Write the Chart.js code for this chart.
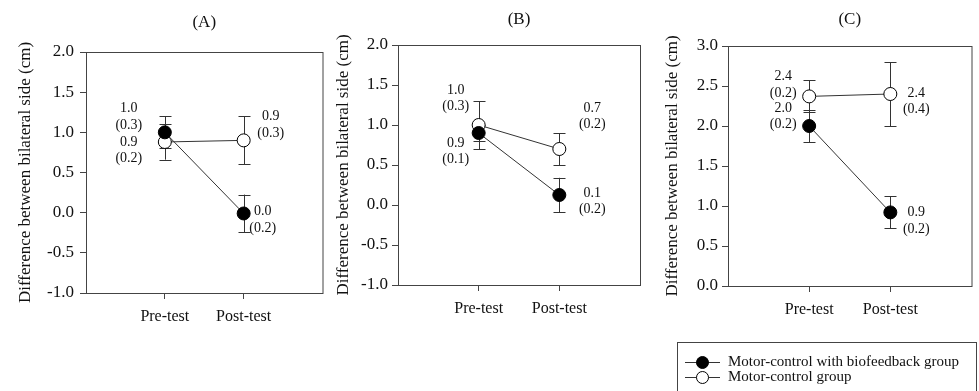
<!DOCTYPE html>
<html>
<head>
<meta charset="utf-8">
<script src="https://cdn.jsdelivr.net/npm/chart.js@4.4.0/dist/chart.umd.min.js"></script>
<style>
  body { margin: 0; background: #fff; width: 979px; height: 391px; overflow: hidden; position: relative; }
  canvas { position: absolute; top: 0; }
</style>
</head>
<body>
<canvas id="chartA" width="330" height="340" style="left:0"></canvas>
<canvas id="chartB" width="320" height="340" style="left:330px"></canvas>
<canvas id="chartC" width="329" height="391" style="left:650px"></canvas>
<script>
const categories = ['Pre-test', 'Post-test'];
const seriesNames = ['Motor-control with biofeedback group', 'Motor-control group'];
const yTitle = 'Difference between bilateral side (cm)';

// (A)
const bioA = [1.0, -0.01];
const bioErrA = [0.2, 0.235];
const ctrlA = [0.88, 0.9];
const ctrlErrA = [0.22, 0.3];
const bioMeanA = ['1.0', '0.0'];
const bioSdA = ['0.3', '0.2'];
const ctrlMeanA = ['0.9', '0.9'];
const ctrlSdA = ['0.2', '0.3'];

// (B)
const bioB = [0.9, 0.125];
const bioErrB = [0.1, 0.215];
const ctrlB = [1.0, 0.7];
const ctrlErrB = [0.3, 0.2];
const bioMeanB = ['0.9', '0.1'];
const bioSdB = ['0.1', '0.2'];
const ctrlMeanB = ['1.0', '0.7'];
const ctrlSdB = ['0.3', '0.2'];

// (C)
const bioC = [2.0, 0.92];
const bioErrC = [0.2, 0.2];
const ctrlC = [2.37, 2.4];
const ctrlErrC = [0.2, 0.4];
const bioMeanC = ['2.0', '0.9'];
const bioSdC = ['0.2', '0.2'];
const ctrlMeanC = ['2.4', '2.4'];
const ctrlSdC = ['0.2', '0.4'];

const serif = "'Liberation Serif', 'Times New Roman', serif";
const ink = '#333';

const boxPlugin = {
  id: 'box',
  afterDatasetsDraw(chart) {
    const a = chart.chartArea, ctx = chart.ctx;
    ctx.save();
    ctx.strokeStyle = '#444';
    ctx.lineWidth = 1;
    ctx.strokeRect(a.left + 0.5, a.top + 0.5, a.right - a.left, a.bottom - a.top);
    ctx.restore();
  }
};

const errorBars = {
  id: 'errorBars',
  beforeDatasetsDraw(chart) {
    const ctx = chart.ctx, y = chart.scales.y;
    ctx.save();
    ctx.strokeStyle = ink;
    ctx.lineWidth = 1;
    chart.data.datasets.forEach((ds, i) => {
      chart.getDatasetMeta(i).data.forEach((pt, j) => {
        const v = ds.data[j].y, e = ds.errors[j];
        const top = y.getPixelForValue(v + e), bot = y.getPixelForValue(v - e);
        const x = Math.round(pt.x) + 0.5;
        ctx.beginPath();
        ctx.moveTo(x, top); ctx.lineTo(x, bot);
        ctx.moveTo(x - 6, Math.round(top) + 0.5); ctx.lineTo(x + 6, Math.round(top) + 0.5);
        ctx.moveTo(x - 6, Math.round(bot) + 0.5); ctx.lineTo(x + 6, Math.round(bot) + 0.5);
        ctx.stroke();
      });
    });
    ctx.restore();
  }
};

const valueText = {
  id: 'valueText',
  afterDraw(chart, args, opts) {
    const ctx = chart.ctx;
    ctx.save();
    ctx.font = '14px ' + serif;
    ctx.fillStyle = '#111';
    ctx.textAlign = 'center';
    ctx.textBaseline = 'middle';
    chart.data.datasets.forEach((ds, i) => {
      chart.getDatasetMeta(i).data.forEach((pt, j) => {
        const [dx, dy] = opts.offsets[i][j];
        ctx.fillText(ds.means[j], pt.x + dx, pt.y + dy);
        ctx.fillText('(' + ds.sds[j] + ')', pt.x + dx, pt.y + dy + 16.5);
      });
    });
    // panel letter
    ctx.font = '17px ' + serif;
    ctx.fillText(opts.letter, (chart.chartArea.left + chart.chartArea.right) / 2, opts.letterY);
    ctx.restore();
  }
};

const legendBox = {
  id: 'legendBox',
  afterDraw(chart, args, opts) {
    if (!opts.show) return;
    const ctx = chart.ctx;
    ctx.save();
    ctx.strokeStyle = '#444';
    ctx.lineWidth = 1;
    ctx.strokeRect(27.5, 342.5, 299, 60);
    const fills = ['#000', '#fff'];
    seriesNames.forEach((name, i) => {
      const yy = 362 + i * 15;
      ctx.strokeStyle = ink;
      ctx.beginPath();
      ctx.moveTo(35, yy + 0.5); ctx.lineTo(70, yy + 0.5);
      ctx.stroke();
      ctx.beginPath();
      ctx.arc(52.5, yy + 0.5, 6, 0, Math.PI * 2);
      ctx.fillStyle = fills[i];
      ctx.fill();
      ctx.strokeStyle = '#000';
      ctx.stroke();
      ctx.fillStyle = '#111';
      ctx.font = '15px ' + serif;
      ctx.textBaseline = 'middle';
      ctx.fillText(name, 78, yy);
    });
    ctx.restore();
  }
};

function makePanel(id, p) {
  const pts = arr => categories.map((c, i) => ({ x: i + 1, y: arr[i] }));
  new Chart(document.getElementById(id), {
    type: 'line',
    data: {
      datasets: [
        {
          label: seriesNames[0], data: pts(p.bio), errors: p.bioErr, means: p.bioMean, sds: p.bioSd,
          borderColor: ink, borderWidth: 1, pointRadius: 6.5,
          pointBackgroundColor: '#000', pointBorderColor: '#000', pointBorderWidth: 1
        },
        {
          label: seriesNames[1], data: pts(p.ctrl), errors: p.ctrlErr, means: p.ctrlMean, sds: p.ctrlSd,
          borderColor: ink, borderWidth: 1, pointRadius: 6.5,
          pointBackgroundColor: '#fff', pointBorderColor: '#000', pointBorderWidth: 1
        }
      ]
    },
    options: {
      responsive: false,
      animation: false,
      layout: { padding: { top: p.top, right: p.right, bottom: p.bottom || 0, left: 0 } },
      scales: {
        x: {
          type: 'linear', min: 0, max: 3,
          afterBuildTicks: s => { s.ticks = [{ value: 1 }, { value: 2 }]; },
          afterFit: s => { s.height = p.xHeight; },
          ticks: { callback: v => categories[v - 1], font: { family: serif, size: 16 }, color: '#111', padding: 8 },
          grid: { drawOnChartArea: false, tickLength: 6, color: '#444' },
          border: { color: '#444' }
        },
        y: {
          min: p.min, max: p.max,
          afterFit: s => { s.width = p.yWidth; },
          ticks: { stepSize: 0.5, callback: v => v.toFixed(1), font: { family: serif, size: 17 }, color: '#111', padding: p.tickPad },
          grid: { drawOnChartArea: false, tickLength: 6, color: '#444' },
          border: { color: '#444' },
          title: { display: true, text: yTitle, font: { family: serif, size: 17 }, color: '#111', padding: { top: p.titlePad, bottom: 0 } }
        }
      },
      plugins: {
        legend: { display: false },
        tooltip: { enabled: false },
        valueText: { offsets: p.offsets, letter: p.letter, letterY: p.letterY },
        legendBox: { show: !!p.legend }
      }
    },
    plugins: [errorBars, boxPlugin, valueText, legendBox]
  });
}

makePanel('chartA', {
  bio: bioA, bioErr: bioErrA, ctrl: ctrlA, ctrlErr: ctrlErrA,
  bioMean: bioMeanA, bioSd: bioSdA, ctrlMean: ctrlMeanA, ctrlSd: ctrlSdA,
  min: -1, max: 2, top: 52, right: 4, xHeight: 47, yWidth: 86, titlePad: 15, tickPad: 6,
  letter: '(A)', letterY: 23,
  offsets: [[[-36, -24], [19, -2]], [[-36, 0], [27, -24]]]
});
makePanel('chartB', {
  bio: bioB, bioErr: bioErrB, ctrl: ctrlB, ctrlErr: ctrlErrB,
  bioMean: bioMeanB, bioSd: bioSdB, ctrlMean: ctrlMeanB, ctrlSd: ctrlSdB,
  min: -1, max: 2, top: 45, right: 10, xHeight: 55, yWidth: 68, titlePad: 3, tickPad: 4,
  letter: '(B)', letterY: 20,
  offsets: [[[-23, 10], [33, -2]], [[-23, -35], [33, -41]]]
});
makePanel('chartC', {
  bio: bioC, bioErr: bioErrC, ctrl: ctrlC, ctrlErr: ctrlErrC,
  bioMean: bioMeanC, bioSd: bioSdC, ctrlMean: ctrlMeanC, ctrlSd: ctrlSdC,
  min: 0, max: 3, top: 46, right: 7, bottom: 51, xHeight: 54, yWidth: 78, titlePad: 12, tickPad: 4,
  letter: '(C)', letterY: 20, legend: true,
  offsets: [[[-26, -18], [26, 0]], [[-26, -20], [26, -1]]]
});
</script>
</body>
</html>
